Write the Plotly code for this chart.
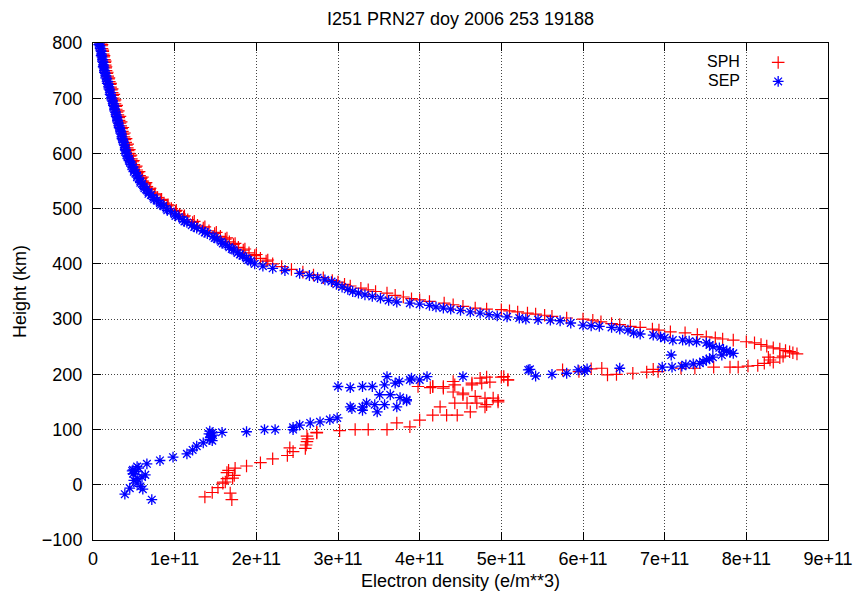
import plotly.graph_objects as go

# ---------------- data (density in units of 1e11 e/m^3, height in km) ----------------
sph_height = [
    800, 795, 790, 785, 780, 775, 770, 765, 760, 755, 750, 745, 740, 735, 730, 725, 720, 715, 710, 705,
    700, 695, 690, 685, 680, 675, 670, 665, 660, 655, 650, 645, 640, 635, 630, 625, 620, 615, 610, 605,
    600, 595, 590, 585, 580, 575, 570, 565, 560, 555, 550, 545, 540, 535, 530, 525, 520, 515, 510, 505,
    500, 495, 490, 485, 480, 475, 470, 465, 460, 455, 450, 445, 440, 435, 430, 425, 420, 415, 410, 405,
    400, 395, 390, 385, 380, 375, 370, 367, 363, 360, 356, 353, 350, 347, 343, 340, 337, 335, 332, 329,
    326, 323, 320, 318, 317, 315, 313, 311, 309, 307, 305, 302, 300, 298, 295, 292, 290, 287, 285, 282,
    280, 277, 275, 272, 268, 266, 264, 262, 259, 257, 254, 251, 248, 246, 243, 241, 239, 237,
    233, 230, 231, 226, 222, 220, 216, 215, 213, 213, 213, 211, 211, 209, 205, 204, 202, 200, 199,
    211, 210, 205, 208, 196, 190, 195, 193, 184, 186, 184, 181, 181, 178, 176, 178, 178,
    157, 157, 153, 160, 163, 166, 168, 175, 178, 190, 195, 187,
    150, 148, 145, 141, 148, 148, 141, 132, 126, 126, 126, 117, 112, 105, 100, 100, 100, 98,
    95, 94, 88, 83, 78, 72, 66, 67, 60, 53, 47, 40, 34, 30, 26, 22, 12, 11, 3, -5, -14, -22, -15, -27, 5, 17,
    # extra topside samples between the 5 km levels
    797, 787, 777, 767, 757, 747, 737, 727, 717, 707, 697, 687, 677, 667, 657, 647, 637, 627, 617, 607,
    597, 587, 577, 567, 557, 547, 537, 527, 517, 507, 497, 487, 477, 467, 457, 447, 437, 427, 417, 407,
]
sph_ne = [
    0.10, 0.105, 0.11, 0.12, 0.125, 0.13, 0.14, 0.145, 0.15, 0.155, 0.16, 0.17, 0.18, 0.19, 0.20, 0.21, 0.215, 0.225, 0.235, 0.24,
    0.25, 0.26, 0.27, 0.28, 0.285, 0.295, 0.305, 0.315, 0.32, 0.33, 0.34, 0.35, 0.36, 0.37, 0.38, 0.39, 0.40, 0.41, 0.42, 0.43,
    0.44, 0.455, 0.47, 0.485, 0.50, 0.52, 0.535, 0.55, 0.57, 0.59, 0.61, 0.64, 0.66, 0.69, 0.72, 0.75, 0.79, 0.83, 0.87, 0.91,
    0.96, 1.01, 1.06, 1.11, 1.16, 1.22, 1.28, 1.35, 1.42, 1.49, 1.56, 1.62, 1.67, 1.72, 1.78, 1.84, 1.91, 1.98, 2.05, 2.12,
    2.20, 2.31, 2.43, 2.57, 2.70, 2.82, 2.93, 3.00, 3.08, 3.15, 3.28, 3.37, 3.46, 3.60, 3.70, 3.80, 3.90, 4.00, 4.12, 4.30,
    4.41, 4.53, 4.68, 4.82, 5.00, 5.10, 5.20, 5.32, 5.42, 5.53, 5.62, 5.80, 6.00, 6.12, 6.22, 6.35, 6.45, 6.58, 6.70, 6.85,
    6.93, 7.07, 7.25, 7.40, 7.51, 7.62, 7.71, 7.84, 8.00, 8.10, 8.18, 8.25, 8.33, 8.41, 8.48, 8.53, 8.57, 8.62,
    8.45, 8.41, 8.27, 8.29, 8.33, 8.22, 8.14, 8.02, 7.90, 7.80, 7.60, 7.37, 7.20, 6.86, 6.92, 6.78, 6.61, 6.41, 6.30,
    6.23, 6.10, 5.95, 5.75, 5.03, 5.08, 4.82, 4.74, 4.64, 4.86, 4.76, 4.64, 4.43, 4.29, 4.13, 3.98, 4.16,
    4.80, 4.90, 4.96, 4.68, 4.53, 4.53, 4.41, 4.29, 4.16, 5.08, 5.00, 4.41,
    4.96, 4.70, 4.82, 4.80, 4.58, 4.43, 4.25, 4.62, 4.46, 4.33, 4.16, 4.00, 3.72, 3.88, 3.60, 3.37, 3.21, 3.02,
    2.74, 2.74, 2.62, 2.63, 2.62, 2.61, 2.60, 2.41, 2.45, 2.38, 2.20, 2.05, 1.88, 1.74, 1.66, 1.64, 1.71, 1.64, 1.59, 1.53, 1.46, 1.37, 1.68, 1.70, 1.62, 1.73,
    0.11, 0.12, 0.135, 0.15, 0.16, 0.175, 0.195, 0.215, 0.235, 0.255, 0.27, 0.29, 0.31, 0.33, 0.345, 0.365, 0.385, 0.405, 0.425, 0.445,
    0.465, 0.495, 0.53, 0.565, 0.605, 0.65, 0.70, 0.76, 0.84, 0.92, 1.02, 1.12, 1.24, 1.37, 1.51, 1.64, 1.74, 1.86, 2.00, 2.14,
]

sep_height = [
    800, 795, 790, 785, 780, 775, 770, 765, 760, 755, 750, 745, 740, 735, 730, 725, 720, 715, 710, 705,
    700, 695, 690, 685, 680, 675, 670, 665, 660, 655, 650, 645, 640, 635, 630, 625, 620, 615, 610, 605,
    600, 595, 590, 585, 580, 575, 570, 565, 560, 555, 550, 545, 540, 535, 530, 525, 520, 515, 510, 505,
    500, 495, 490, 485, 480, 475, 470, 465, 460, 455, 450, 445, 440, 435, 430, 425, 420, 415, 410, 405,
    400, 396, 392, 388, 383, 379, 375, 371, 368, 363, 358, 354, 350, 347, 344, 341, 338, 334, 331, 329,
    327, 325, 322, 320, 318, 316, 313, 311, 308, 306, 304, 302, 300, 299, 298, 297, 293, 289, 288, 287,
    285, 282, 280, 275, 273, 271, 268, 266, 262, 262, 260, 259, 257, 253, 250, 248, 245, 242, 240, 238,
    235, 231, 228, 226, 223, 220, 219, 217, 215, 213, 213, 235, 211, 210, 208, 206, 202, 200, 197, 209,
    208, 196, 196, 190, 190, 196, 184, 181, 178, 178, 176, 178, 193, 187,
    158, 154, 163, 163, 141, 141, 145, 145, 141, 152, 148, 135, 132, 138,
    121, 118, 114, 112, 108, 104, 100, 100, 100, 96, 95, 97, 92, 88, 82, 76, 70, 63, 56, 50, 44, 38,
    33, 27, 20, 11, 3, -3, 18, 8, -6, -17, -27, -8, 24, 14,
    # extra samples: topside between the 5 km levels, and the 80-95 km cluster
    797, 787, 777, 767, 757, 747, 737, 727, 717, 707, 697, 687, 677, 667, 657, 647, 637, 627, 617, 607,
    597, 587, 577, 567, 557, 547, 537, 527, 517, 507, 497, 487, 477, 467, 457, 447, 437, 427, 417, 407,
    94, 90, 86, 80, 30, 25,
]
sep_ne = [
    0.08, 0.085, 0.09, 0.10, 0.105, 0.11, 0.12, 0.125, 0.13, 0.135, 0.14, 0.15, 0.16, 0.17, 0.18, 0.19, 0.195, 0.205, 0.215, 0.22,
    0.23, 0.24, 0.25, 0.26, 0.265, 0.275, 0.285, 0.295, 0.30, 0.31, 0.32, 0.33, 0.34, 0.35, 0.355, 0.365, 0.375, 0.385, 0.395, 0.40,
    0.41, 0.425, 0.44, 0.455, 0.47, 0.49, 0.505, 0.52, 0.54, 0.56, 0.58, 0.60, 0.62, 0.65, 0.68, 0.71, 0.74, 0.78, 0.82, 0.86,
    0.90, 0.95, 1.00, 1.05, 1.10, 1.15, 1.21, 1.27, 1.34, 1.40, 1.47, 1.52, 1.57, 1.62, 1.67, 1.72, 1.77, 1.83, 1.88, 1.93,
    1.98, 2.08, 2.20, 2.35, 2.53, 2.65, 2.75, 2.84, 2.92, 2.98, 3.05, 3.12, 3.18, 3.25, 3.33, 3.42, 3.52, 3.62, 3.72, 3.88,
    4.00, 4.12, 4.20, 4.29, 4.38, 4.50, 4.62, 4.74, 4.85, 4.95, 5.07, 5.22, 5.30, 5.45, 5.60, 5.72, 5.85, 6.00, 6.10, 6.20,
    6.35, 6.45, 6.55, 6.62, 6.70, 6.86, 6.95, 7.00, 7.10, 7.22, 7.30, 7.39, 7.51, 7.55, 7.59, 7.67, 7.72, 7.76, 7.80, 7.84,
    7.70, 7.59, 7.55, 7.51, 7.47, 7.43, 7.35, 7.26, 7.21, 7.09, 6.97, 7.08, 6.45, 6.05, 5.94, 6.02, 5.80, 5.62, 5.42, 5.35,
    5.33, 4.53, 4.09, 4.00, 3.88, 3.60, 3.70, 3.57, 3.42, 3.30, 3.15, 3.00, 3.90, 3.75,
    3.76, 3.84, 3.64, 3.51, 3.15, 3.30, 3.45, 3.57, 3.72, 3.84, 3.35, 3.30, 3.48, 3.17,
    2.99, 2.90, 2.78, 2.66, 2.53, 2.45, 2.45, 2.23, 2.10, 1.88, 1.58, 1.43, 1.42, 1.45, 1.43, 1.35, 1.27, 1.22, 1.15, 0.98, 0.82, 0.66,
    0.54, 0.49, 0.49, 0.54, 0.54, 0.58, 0.64, 0.50, 0.45, 0.39, 0.72, 0.61, 0.52, 0.60,
    0.07, 0.095, 0.10, 0.115, 0.125, 0.14, 0.155, 0.175, 0.195, 0.21, 0.23, 0.25, 0.265, 0.285, 0.30, 0.32, 0.34, 0.355, 0.38, 0.395,
    0.41, 0.44, 0.47, 0.50, 0.54, 0.58, 0.63, 0.68, 0.75, 0.83, 0.91, 1.01, 1.12, 1.24, 1.37, 1.49, 1.59, 1.70, 1.80, 1.90,
    1.46, 1.47, 1.44, 1.46, 0.56, 0.48,
]

x_tick_values = [0, 1, 2, 3, 4, 5, 6, 7, 8, 9]
x_tick_labels = ["0", "1e+11", "2e+11", "3e+11", "4e+11", "5e+11", "6e+11", "7e+11", "8e+11", "9e+11"]
y_tick_values = [-100, 0, 100, 200, 300, 400, 500, 600, 700, 800]

SCALE = 1e11

title_text = "I251 PRN27 doy 2006 253 19188"
x_title = "Electron density (e/m**3)"
y_title = "Height (km)"
series_names = ["SPH", "SEP"]

FONT = "Liberation Sans, Arial, sans-serif"
FS = 18

fig = go.Figure()
fig.add_trace(go.Scatter(
    x=[v * SCALE for v in sph_ne], y=sph_height, mode="markers", name="",
    marker=dict(symbol="cross-thin", size=9, color="rgba(0,0,0,0)",
                line=dict(color="#ff0000", width=1.2)),
    showlegend=True,
))
fig.add_trace(go.Scatter(
    x=[v * SCALE for v in sep_ne], y=sep_height, mode="markers", name="",
    marker=dict(symbol="asterisk", size=9, color="rgba(0,0,0,0)",
                line=dict(color="#0000ff", width=1.3)),
    showlegend=True,
))

axis_common = dict(
    showline=True, linecolor="black", linewidth=1, mirror="allticks",
    ticks="inside", ticklen=8, tickcolor="black", tickwidth=1,
    showgrid=True, gridcolor="#444444", griddash="1px,2px", gridwidth=1,
    zeroline=False, tickfont=dict(family=FONT, size=FS, color="black"),
)

fig.update_layout(
    width=861, height=598,
    margin=dict(l=93, r=33, t=43, b=58, autoexpand=False),
    paper_bgcolor="white", plot_bgcolor="white",
    title=dict(text=title_text, x=(93 + 735 / 2) / 861, xanchor="center", y=1 - 19 / 598, yanchor="middle",
               font=dict(family=FONT, size=FS, color="black")),
    xaxis=dict(range=[0, 9 * SCALE], tickvals=[v * SCALE for v in x_tick_values], ticktext=x_tick_labels,
               title=dict(text=x_title, font=dict(family=FONT, size=FS, color="black"), standoff=6),
               ticklabelstandoff=2, **axis_common),
    yaxis=dict(range=[-100, 800], tickvals=y_tick_values,
               title=dict(text=y_title, font=dict(family=FONT, size=FS, color="black"), standoff=10),
               ticklabelstandoff=6, **axis_common),
    legend=dict(x=0.905, y=0.99, xanchor="left", yanchor="top", bgcolor="rgba(0,0,0,0)",
                font=dict(family=FONT, size=10), tracegroupgap=0, itemwidth=30),
    showlegend=True,
    annotations=[
        dict(text=series_names[0], xref="paper", yref="paper", x=0.883, y=0.962, xanchor="right", yanchor="middle",
             showarrow=False, font=dict(family=FONT, size=16, color="black")),
        dict(text=series_names[1], xref="paper", yref="paper", x=0.883, y=0.924, xanchor="right", yanchor="middle",
             showarrow=False, font=dict(family=FONT, size=16, color="black")),
    ],
)

fig.write_html("out.html", config={"displayModeBar": False},
               post_script="document.body.style.margin='0';")
